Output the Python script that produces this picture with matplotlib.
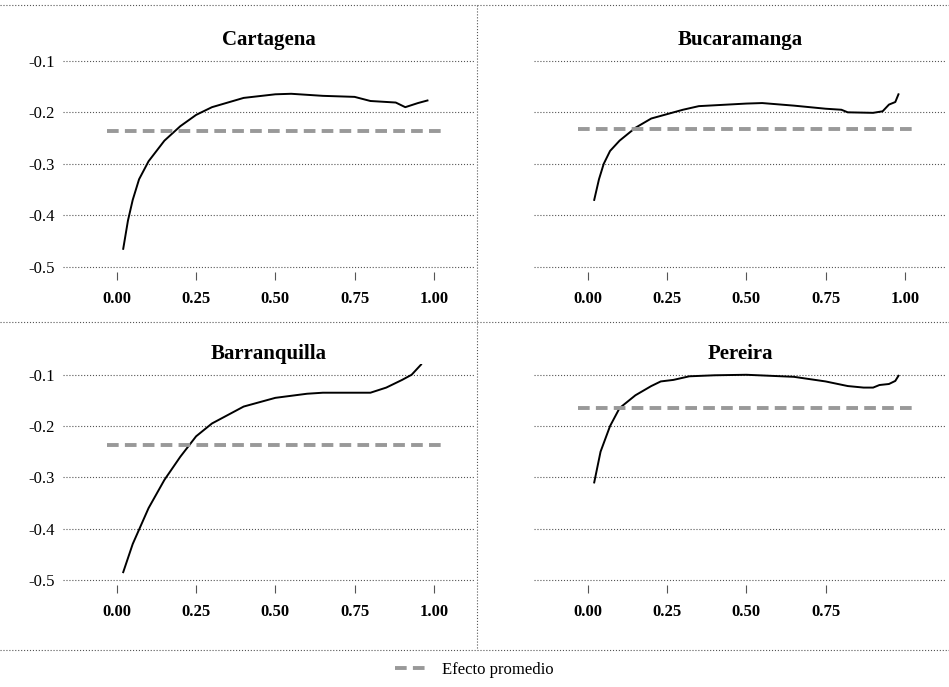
import matplotlib.pyplot as plt
from matplotlib.lines import Line2D

plt.rcParams['font.family'] = ['Liberation Serif', 'DejaVu Serif']

titles = ['Cartagena', 'Bucaramanga', 'Barranquilla', 'Pereira']

cart_x = [0.02, 0.035, 0.05, 0.07, 0.10, 0.15, 0.20, 0.25, 0.30, 0.40, 0.50, 0.55, 0.65, 0.75, 0.80, 0.88, 0.91, 0.95, 0.98]
cart_y = [-0.465, -0.41, -0.37, -0.33, -0.295, -0.255, -0.227, -0.205, -0.19, -0.172, -0.165, -0.164, -0.168, -0.170, -0.178, -0.181, -0.19, -0.182, -0.177]

buca_x = [0.02, 0.035, 0.05, 0.07, 0.10, 0.15, 0.20, 0.30, 0.35, 0.50, 0.55, 0.65, 0.75, 0.80, 0.82, 0.90, 0.93, 0.95, 0.97, 0.98]
buca_y = [-0.37, -0.33, -0.30, -0.275, -0.255, -0.23, -0.212, -0.195, -0.188, -0.183, -0.182, -0.187, -0.193, -0.195, -0.20, -0.201, -0.198, -0.185, -0.18, -0.165]

barr_x = [0.02, 0.05, 0.10, 0.15, 0.20, 0.25, 0.30, 0.40, 0.50, 0.60, 0.65, 0.80, 0.85, 0.90, 0.93, 0.96, 0.975]
barr_y = [-0.485, -0.43, -0.36, -0.305, -0.26, -0.22, -0.195, -0.162, -0.145, -0.137, -0.135, -0.135, -0.125, -0.11, -0.10, -0.08, -0.06]

pere_x = [0.02, 0.04, 0.07, 0.10, 0.15, 0.20, 0.23, 0.27, 0.32, 0.40, 0.50, 0.65, 0.75, 0.82, 0.87, 0.90, 0.92, 0.95, 0.97, 0.98]
pere_y = [-0.31, -0.25, -0.20, -0.165, -0.14, -0.122, -0.113, -0.11, -0.103, -0.101, -0.100, -0.104, -0.113, -0.122, -0.125, -0.125, -0.12, -0.118, -0.112, -0.102]

avg_effect = [-0.237, -0.232, -0.237, -0.165]
series = [(cart_x, cart_y), (buca_x, buca_y), (barr_x, barr_y), (pere_x, pere_y)]
xticks_all = [0.0, 0.25, 0.5, 0.75, 1.0]
xticks_list = [xticks_all, xticks_all, xticks_all, xticks_all[:4]]
yticks = [-0.5, -0.4, -0.3, -0.2, -0.1]

W, H = 949, 687
fig = plt.figure(figsize=(W / 100, H / 100), dpi=100)

# axes boxes in pixels: left, top, right, bottom
boxes = [(63, 50, 475, 272), (534, 50, 946, 272),
         (63, 364, 475, 585), (534, 364, 946, 585)]

for i, (l, t, r, b) in enumerate(boxes):
    ax = fig.add_axes([l / W, 1 - b / H, (r - l) / W, (b - t) / H])
    x, y = series[i]
    ax.plot(x, y, color='black', lw=1.4)
    ax.plot([-0.03, 1.03], [avg_effect[i]] * 2, color='#999999', lw=2.8, ls=(0, (3, 1.6)))
    ax.set_xlim(-0.17, 1.13)
    ax.set_ylim(-0.51, -0.079)
    ax.set_yticks(yticks)
    ax.yaxis.grid(True, ls=':', color='#555555', lw=0.8)
    ax.set_xticks(xticks_list[i])
    ax.set_xticklabels(['%.2f' % v for v in xticks_list[i]], fontsize=12, fontweight='bold')
    if i % 2 == 0:
        ax.set_yticklabels(['%.1f' % v for v in yticks], fontsize=12)
    else:
        ax.set_yticklabels([])
    ax.tick_params(axis='y', length=0, pad=6)
    ax.tick_params(axis='x', length=6, color='#555555', pad=8)
    for s in ax.spines.values():
        s.set_visible(False)
    ax.set_title(titles[i], fontsize=15, fontweight='bold', pad=2)

# dotted separators
for yp in [5, 322, 650]:
    fig.add_artist(Line2D([0, 1], [1 - yp / H] * 2, ls=':', color='#555555', lw=0.8))
fig.add_artist(Line2D([477 / W] * 2, [1 - 5 / H, 1 - 650 / H], ls=':', color='#555555', lw=0.8))

handle = Line2D([], [], color='#999999', lw=2.8, ls=(0, (3, 1.6)))
fig.legend([handle], ['Efecto promedio'], loc='center', bbox_to_anchor=(0.5, 1 - 670 / H),
           frameon=False, fontsize=12, handlelength=2)

fig.savefig('out.png', dpi=100)
